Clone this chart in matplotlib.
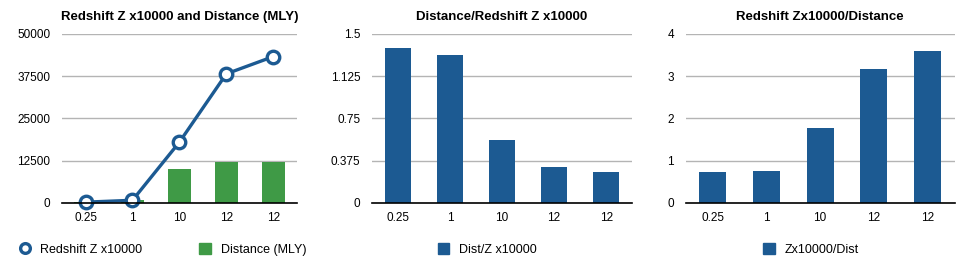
import matplotlib
matplotlib.use("Agg")
import matplotlib.pyplot as plt
from matplotlib.lines import Line2D
from matplotlib.patches import Patch

# Data
categories = ['0.25', '1', '10', '12', '12']
redshift_z = [250, 800, 18000, 38200, 43300]
distance_mly = [400, 1000, 10000, 12000, 12000]
dist_over_z = [1.373, 1.314, 0.561, 0.322, 0.278]
z_over_dist = [0.74, 0.764, 1.78, 3.17, 3.60]

blue = '#1c5a92'
green = '#3f9a46'
grid_grey = '#b4b4b4'

plt.rcParams['font.family'] = ['Liberation Sans', 'DejaVu Sans']

fig = plt.figure(figsize=(9.74, 2.65), dpi=100)


def style_axes(ax, ticks, labels):
    # Grid, axis line and tick labels like the reference
    ax.set_xlim(-0.5, 4.5)
    ax.set_ylim(ticks[0], ticks[-1])
    ax.set_yticks(ticks)
    ax.set_yticklabels(labels, fontsize=8.5)
    ax.set_xticks(range(len(categories)))
    ax.set_xticklabels(categories, fontsize=8.5)
    ax.tick_params(length=0, pad=6.5)
    ax.tick_params(axis='y', pad=8.5)
    for s in ['top', 'right', 'left']:
        ax.spines[s].set_visible(False)
    ax.spines['bottom'].set_color('black')
    ax.spines['bottom'].set_linewidth(1.2)
    ax.spines['bottom'].set_zorder(5)
    ax.yaxis.grid(True, color=grid_grey, linewidth=1)
    ax.set_axisbelow(True)


x = range(len(categories))
leg_kw = dict(loc='upper center', frameon=False, fontsize=9,
              handlelength=0.9, handleheight=1.0, handletextpad=0.8)

# Panel 1: line + bars
ax1 = fig.add_axes([0.0637, 0.234, 0.241, 0.638])
ax1.bar(x, distance_mly, width=0.5, color=green, zorder=2)
ax1.plot(x, redshift_z, color=blue, linewidth=2.4, marker='o', markersize=9,
         markerfacecolor='white', markeredgecolor=blue, markeredgewidth=2.4,
         zorder=3, clip_on=False)
style_axes(ax1, [0, 12500, 25000, 37500, 50000], ['0', '12500', '25000', '37500', '50000'])
ax1.set_title('Redshift Z x10000 and Distance (MLY)', fontsize=9.5, fontweight='bold', pad=10)
h1 = [Line2D([], [], color='white', marker='o', markersize=7, markerfacecolor='white',
             markeredgecolor=blue, markeredgewidth=2.4),
      Patch(color=green)]
ax1.legend(h1, ['Redshift Z x10000', 'Distance (MLY)'],
           bbox_to_anchor=(0.428, -0.17), ncol=2, columnspacing=4.55, **leg_kw)

# Panel 2
ax2 = fig.add_axes([0.382, 0.234, 0.267, 0.638])
ax2.bar(x, dist_over_z, width=0.5, color=blue, zorder=2)
style_axes(ax2, [0, 0.375, 0.75, 1.125, 1.5], ['0', '0.375', '0.75', '1.125', '1.5'])
ax2.set_title('Distance/Redshift Z x10000', fontsize=9.5, fontweight='bold', pad=10)
ax2.legend([Patch(color=blue)], ['Dist/Z x10000'],
           bbox_to_anchor=(0.442, -0.17), **leg_kw)

# Panel 3
ax3 = fig.add_axes([0.704, 0.234, 0.276, 0.638])
ax3.bar(x, z_over_dist, width=0.5, color=blue, zorder=2)
style_axes(ax3, [0, 1, 2, 3, 4], ['0', '1', '2', '3', '4'])
ax3.set_title('Redshift Zx10000/Distance', fontsize=9.5, fontweight='bold', pad=10)
ax3.legend([Patch(color=blue)], ['Zx10000/Dist'],
           bbox_to_anchor=(0.467, -0.17), **leg_kw)

fig.savefig('out.png', dpi=100)
